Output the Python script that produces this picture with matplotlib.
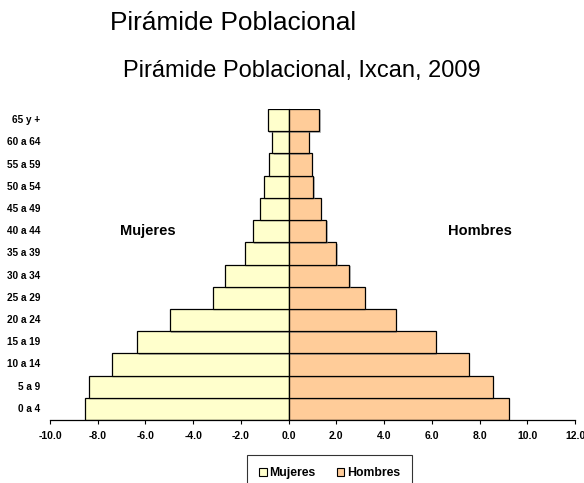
import matplotlib
matplotlib.use("Agg")
import matplotlib.pyplot as plt
from matplotlib.patches import Patch
import matplotlib.patheffects as pe
import numpy as np

plt.rcParams['font.family'] = ['Liberation Sans', 'DejaVu Sans']

groups = ["0 a 4", "5 a 9", "10 a 14", "15 a 19", "20 a 24", "25 a 29", "30 a 34",
          "35 a 39", "40 a 44", "45 a 49", "50 a 54", "55 a 59", "60 a 64", "65 y +"]
mujeres = [-8.55, -8.38, -7.39, -6.34, -4.97, -3.19, -2.68, -1.84, -1.51, -1.18, -1.02, -0.82, -0.69, -0.88]
hombres = [9.23, 8.56, 7.55, 6.16, 4.49, 3.18, 2.55, 2.00, 1.58, 1.34, 1.04, 0.97, 0.85, 1.29]
xticks = [-10, -8, -6, -4, -2, 0, 2, 4, 6, 8, 10, 12]

c_muj = "#FFFFCC"
c_hom = "#FFCC99"

fig = plt.figure(figsize=(5.84, 4.83), dpi=100)
ax = fig.add_axes([50/584, 1-420/483, 525/584, 311/483])

y = np.arange(len(groups))
shadow = [pe.SimplePatchShadow(offset=(1, -1), shadow_rgbFace="#808080", alpha=0.5), pe.Normal()]
b1 = ax.barh(y, mujeres, height=1.0, color=c_muj, edgecolor="black", linewidth=0.9, zorder=2)
b2 = ax.barh(y, hombres, height=1.0, color=c_hom, edgecolor="black", linewidth=0.9, zorder=2)
for r in list(b1) + list(b2):
    r.set_path_effects(shadow)

ax.set_xlim(-10, 12)
ax.set_ylim(-0.5, len(groups) - 0.5)
ax.set_xticks(xticks)
ax.set_xticklabels([f"{v:.1f}" for v in xticks], fontsize=7.5, fontweight="bold")
ax.tick_params(axis="x", direction="out", length=3, width=0.8, pad=5)

ax.spines["top"].set_visible(False)
ax.spines["right"].set_visible(False)
ax.spines["left"].set_position(("data", 0))
ax.spines["left"].set_zorder(3)
ax.spines["bottom"].set_linewidth(0.9)
ax.set_yticks(y)
ax.set_yticklabels([])
ax.tick_params(axis="y", direction="out", length=2, width=0.6)

for yi, g in zip(y, groups):
    ax.text(-0.019, yi, g, transform=ax.get_yaxis_transform(), ha="right", va="center",
            fontsize=7.2, fontweight="bold")

ax.text(-5.9, 8, "Mujeres", ha="center", va="center", fontsize=10.5, fontweight="bold")
ax.text(8.0, 8, "Hombres", ha="center", va="center", fontsize=10.5, fontweight="bold")

fig.text(110/584, 1-23/483, "Pirámide Poblacional", ha="left", va="center", fontsize=18.9)
fig.text(302/584, 1-71/483, "Pirámide Poblacional, Ixcan, 2009", ha="center", va="center", fontsize=17)

handles = [Patch(facecolor=c_muj, edgecolor="black", linewidth=0.8, label="Mujeres"),
           Patch(facecolor=c_hom, edgecolor="black", linewidth=0.8, label="Hombres")]
leg = fig.legend(handles=handles, loc="upper left", bbox_to_anchor=(247/584, 1-455/483),
                 ncol=2, frameon=True, fancybox=False, edgecolor="black",
                 prop={"size": 8.8, "weight": "bold"}, handlelength=0.6, handleheight=0.6,
                 handletextpad=0.25, columnspacing=1.7, borderpad=1.0, borderaxespad=0)
leg.get_frame().set_linewidth(0.8)

fig.savefig("out.png", dpi=100)
